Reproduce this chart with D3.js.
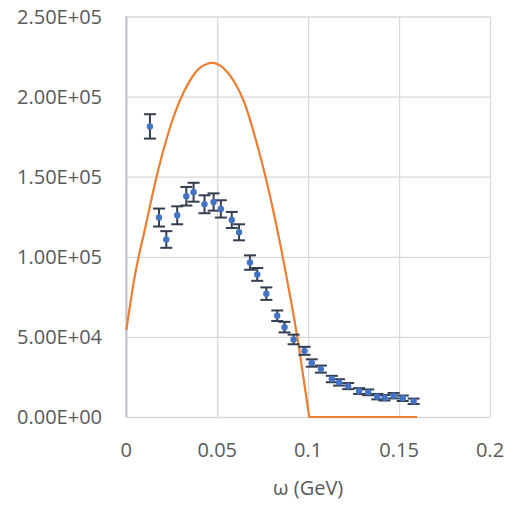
<!DOCTYPE html>
<html lang="en">

<head>
  <meta charset="UTF-8">
  <title>Chart</title>
  <script src="https://cdn.jsdelivr.net/npm/d3@7"></script>
  <style>
    body { margin: 0; background: #fff; }
    text { font-family: "Open Sans", Lato, sans-serif; fill: #595959; }
  </style>
</head>

<body>
  <svg width=514 height=507 id="chart"></svg>
  <script>
    // measured points with error bars
    const omega = [0.013, 0.018, 0.022, 0.028, 0.033, 0.037, 0.043, 0.048, 0.052, 0.058,
      0.062, 0.068, 0.072, 0.077, 0.083, 0.087, 0.092, 0.098, 0.102, 0.107,
      0.113, 0.117, 0.122, 0.128, 0.133, 0.138, 0.142, 0.147, 0.152, 0.158];
    const counts = [181400, 124500, 110800, 125900, 137800, 140300, 132800, 134200, 129900, 123000,
      115300, 96400, 89000, 77000, 63200, 56100, 48400, 41300, 33700, 29900,
      23700, 21600, 19300, 16200, 15400, 12700, 12000, 13300, 11700, 9800];
    const errors = [7600, 5600, 5200, 5600, 5800, 5900, 5600, 5400, 5400, 5000,
      5000, 4500, 4000, 3900, 3300, 3300, 3000, 2500, 2300, 2200,
      2000, 2000, 1900, 1800, 1800, 1700, 1700, 1700, 1700, 1700];

    // model curve (dome up to the knee, then flat)
    const curveX = [0, 0.005, 0.01, 0.015, 0.02, 0.025, 0.03, 0.035, 0.04, 0.045,
      0.047, 0.05, 0.055, 0.06, 0.065, 0.07, 0.075, 0.08, 0.085, 0.09,
      0.095, 0.1006, 0.16];
    const curveY = [54200, 90000, 116000, 142000, 165000, 184000, 199000, 210000, 217500, 220700,
      221000, 220300, 216000, 208000, 196000, 178000, 157000, 133000, 106000, 76000,
      43000, 0, 0];

    const xTicks = [0, 0.05, 0.1, 0.15, 0.2];
    const yTicks = [0, 50000, 100000, 150000, 200000, 250000];

    const svg = d3.select('#chart');
    const mLeft = 126.3, mRight = 490, mTop = 16.5, mBottom = 417;

    const x = d3.scaleLinear().domain([0, 0.2]).range([mLeft, mRight]);
    const y = d3.scaleLinear().domain([0, 250000]).range([mBottom, mTop]);

    // grid
    svg.append('g')
      .attr('transform', `translate(0, ${mBottom})`)
      .call(d3.axisBottom(x).tickValues(xTicks).tickSize(-(mBottom - mTop)).tickFormat(''))
      .call(g => g.select('.domain').remove())
      .selectAll('line').attr('stroke', '#d9d9d9').attr('stroke-width', 1.3);
    svg.append('g')
      .attr('transform', `translate(${mLeft}, 0)`)
      .call(d3.axisLeft(y).tickValues(yTicks).tickSize(-(mRight - mLeft)).tickFormat(''))
      .call(g => g.select('.domain').remove())
      .selectAll('line').attr('stroke', '#d9d9d9').attr('stroke-width', 1.3);

    // y axis line
    svg.append('line')
      .attr('x1', mLeft).attr('x2', mLeft)
      .attr('y1', y(250000)).attr('y2', mBottom)
      .attr('stroke', '#bcc3d0').attr('stroke-width', 2);

    // tick labels
    svg.selectAll('.xLab')
      .data(xTicks)
      .enter()
      .append('text')
      .attr('x', d => x(d))
      .attr('y', 457)
      .attr('text-anchor', 'middle')
      .attr('font-size', '20px')
      .text(d => d);

    svg.selectAll('.yLab')
      .data(yTicks)
      .enter()
      .append('text')
      .attr('x', 102)
      .attr('y', d => y(d))
      .attr('dy', '0.36em')
      .attr('text-anchor', 'end')
      .attr('font-size', '20px')
      .text(d => d.toExponential(2).toUpperCase().replace(/E([+-])(\d)$/, 'E$10$2'));

    svg.append('text')
      .attr('x', (mLeft + mRight) / 2)
      .attr('y', 495)
      .attr('text-anchor', 'middle')
      .attr('font-size', '20px')
      .text('ω (GeV)');

    // model line: smooth dome, straight flat tail
    const pairs = d3.zip(curveX, curveY);
    const knee = pairs.findIndex(p => p[1] === 0);
    const dome = d3.line()
      .x(d => x(d[0]))
      .y(d => y(d[1]))
      .curve(d3.curveNatural);
    const flat = d3.line()
      .x(d => x(d[0]))
      .y(d => y(d[1]));
    svg.append('path')
      .attr('d', dome(pairs.slice(0, knee + 1)) + flat(pairs.slice(knee)).replace('M', 'L'))
      .attr('fill', 'none')
      .attr('stroke', '#ed7d31')
      .attr('stroke-width', 2.2)
      .attr('stroke-linejoin', 'round');

    // error bars + points
    const pts = omega.map((v, i) => ({ x: v, y: counts[i], e: errors[i] }));
    const bars = svg.append('g').selectAll('g')
      .data(pts)
      .enter()
      .append('g')
      .attr('stroke', '#333f50')
      .attr('stroke-width', 2);
    bars.append('line')
      .attr('x1', d => x(d.x)).attr('x2', d => x(d.x))
      .attr('y1', d => y(d.y - d.e)).attr('y2', d => y(d.y + d.e));
    bars.append('line')
      .attr('x1', d => x(d.x) - 6).attr('x2', d => x(d.x) + 6)
      .attr('y1', d => y(d.y + d.e)).attr('y2', d => y(d.y + d.e));
    bars.append('line')
      .attr('x1', d => x(d.x) - 6).attr('x2', d => x(d.x) + 6)
      .attr('y1', d => y(d.y - d.e)).attr('y2', d => y(d.y - d.e));

    svg.append('g').selectAll('circle')
      .data(pts)
      .enter()
      .append('circle')
      .attr('cx', d => x(d.x))
      .attr('cy', d => y(d.y))
      .attr('r', 3.2)
      .attr('fill', '#4472c4');
  </script>
</body>

</html>
